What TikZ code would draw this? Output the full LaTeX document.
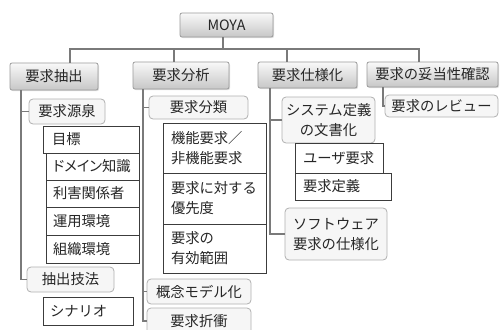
\documentclass[tikz,border=0pt]{standalone}
\usepackage{fontspec}
\setmainfont{Noto Sans CJK JP}
\newfontfamily\jpprop[RawFeature=+palt]{Noto Sans CJK JP}
\usetikzlibrary{shadows}
\definecolor{txt}{HTML}{262626}
\definecolor{lineg}{HTML}{7A7A7A}
\definecolor{lvonefr}{HTML}{9A9A9A}
\definecolor{lvtwofr}{HTML}{B0B0B0}
\definecolor{lvtwofill}{HTML}{F6F6F6}
\definecolor{lvthreefr}{HTML}{3C3C3C}
\newcommand\mkbox[8][4]{%
  \pgfmathsetmacro\mkW{#6-#4}\pgfmathsetmacro\mkH{#7-#5}%
  \pgfmathsetmacro\mkT{#6-#4-2*#1}%
  \pgfmathsetmacro\mkX{(#4+#6)/2}\pgfmathsetmacro\mkY{(#5+#7)/2}%
  \node[#3, inner xsep=#1pt, inner ysep=0pt, text width=\mkT pt,
        minimum width=\mkW pt, minimum height=\mkH pt] (#2) at (\mkX,\mkY) {#8};}
\begin{document}
\begin{tikzpicture}[x=1pt,y=-1pt,
  base/.style={font=\fontsize{14.3}{20}\selectfont, text=txt},
  lvzero/.style={base, draw=lvonefr, line width=0.8pt, rounded corners=2pt,
    top color=white!95!gray, bottom color=black!22, align=center,
    drop shadow={shadow xshift=1pt, shadow yshift=-1.2pt, opacity=0.25}},
  lvone/.style={lvzero},
  lvtwo/.style={base, draw=lvtwofr, fill=lvtwofill, line width=0.8pt,
    rounded corners=4pt, align=center},
  lvthree/.style={base, draw=lvthreefr, fill=white, line width=1pt, align=left},
  conn/.style={draw=lineg, line width=1.7pt, line cap=rect}]
\useasboundingbox (0,0) rectangle (500,329);

% top
\mkbox{MOYA}{lvzero}{180}{13}{273}{37}{MOYA}
% level 1
\mkbox{A}{lvone}{10}{63}{98}{90}{要求抽出}
\mkbox{B}{lvone}{133}{62}{229}{89}{要求分析}
\mkbox{C}{lvone}{258}{62}{357}{88}{要求仕様化}
\mkbox{D}{lvone}{367}{62}{498}{87}{要求の妥当性確認}

% under A
\mkbox{A1}{lvtwo}{29}{99}{105}{124}{要求源泉}
\mkbox[9]{A11}{lvthree}{43}{126}{139}{153}{目標}
\mkbox[7]{A12}{lvthree}{46}{153}{139}{180}{{\jpprop ドメイン知識}}
\mkbox[7]{A13}{lvthree}{46}{180}{139}{207}{利害関係者}
\mkbox[7]{A14}{lvthree}{46}{207}{139}{235}{運用環境}
\mkbox[7]{A15}{lvthree}{46}{235}{139}{263}{組織環境}
\mkbox{A2}{lvtwo}{27}{267}{114}{292}{抽出技法}
\mkbox[7]{A21}{lvthree}{43}{297}{133}{325}{シナリオ}

% under B
\mkbox{B1}{lvtwo}{149}{96}{248}{119}{要求分類}
\mkbox[8]{B11}{lvthree}{163}{123}{266}{173}{機能要求／\\非機能要求}
\mkbox[8]{B12}{lvthree}{163}{173}{266}{224}{要求に対する\\優先度}
\mkbox[8]{B13}{lvthree}{163}{224}{266}{273}{要求の\\有効範囲}
\mkbox{B2}{lvtwo}{147}{279}{251}{304}{概念モデル化}
\mkbox{B3}{lvtwo}{147}{308}{251}{334}{要求折衝}

% under C
\mkbox{C1}{lvtwo}{282}{97}{375}{143}{システム定義\\の文書化}
\mkbox[8]{C11}{lvthree}{295}{143}{383}{173}{ユーザ要求}
\mkbox[8]{C12}{lvthree}{295}{173}{391}{200}{要求定義}
\mkbox{C2}{lvtwo}{285}{208}{387}{260}{ソフトウェア\\要求の仕様化}

% under D
\mkbox{D1}{lvtwo}{385}{95}{498}{117}{要求のレビュー}

% connectors
\coordinate (dM) at (223,49);
\coordinate (dA) at (70,49);
\coordinate (dB) at (174,49);
\coordinate (dC) at (287,49);
\coordinate (dD) at (419,49);
\coordinate (vA) at (21,0);
\coordinate (vB) at (143,0);
\coordinate (vC) at (270,0);
\coordinate (vD) at (383,0);

\draw[conn] (dM |- MOYA.south) -- (dM);
\draw[conn] (dA |- A.north) -- (dA) -- (dD) -- (dD |- D.north);
\draw[conn] (dB) -- (dB |- B.north);
\draw[conn] (dC) -- (dC |- C.north);

\draw[conn] (vA |- A.south) |- (A2.west);
\draw[conn] (vA |- A1.west) -- (A1.west);

\draw[conn] (vB |- B.south) |- (B3.west);
\draw[conn] (vB |- B1.west) -- (B1.west);
\draw[conn] (vB |- B2.west) -- (B2.west);

\draw[conn] (vC |- C.south) |- (C2.west);
\draw[conn] (vC |- C1.west) -- (C1.west);

\draw[conn] (vD |- D.south) |- (D1.west);
\end{tikzpicture}
\end{document}
